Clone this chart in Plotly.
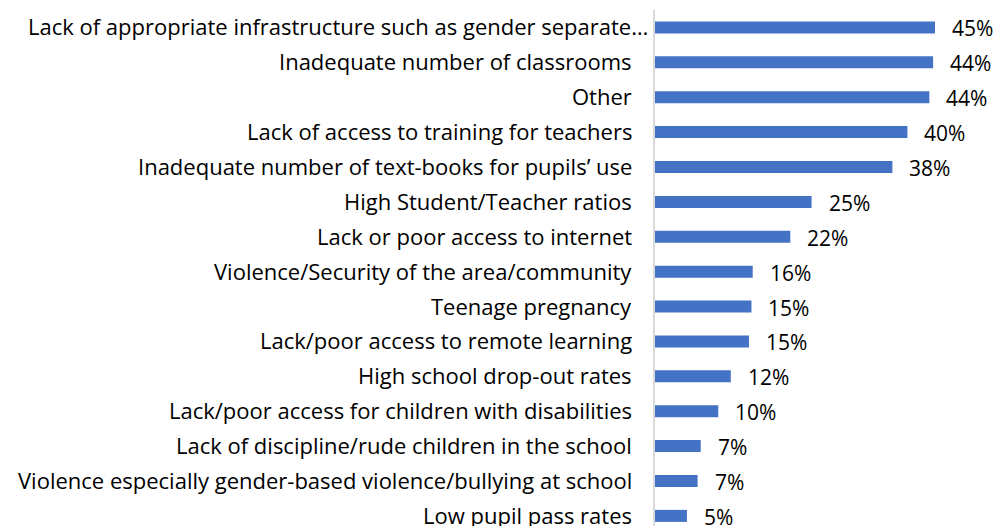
import plotly.graph_objects as go

# Challenges reported by schools (share of respondents, %)
categories = [
    "Lack of appropriate infrastructure such as gender separate…",
    "Inadequate number of classrooms",
    "Other",
    "Lack of access to training for teachers",
    "Inadequate number of text-books for pupils’ use",
    "High Student/Teacher ratios",
    "Lack or poor access to internet",
    "Violence/Security of the area/community",
    "Teenage pregnancy",
    "Lack/poor access to remote learning",
    "High school drop-out rates",
    "Lack/poor access for children with disabilities",
    "Lack of discipline/rude children in the school",
    "Violence especially gender-based violence/bullying at school",
    "Low pupil pass rates",
]
shares = [44.7, 44.4, 43.8, 40.3, 37.9, 25.0, 21.6, 15.6, 15.4, 15.0, 12.1, 10.1, 7.3, 6.8, 5.1]

FONT = "Open Sans"
FONT_SIZE = 22
BAR_COLOR = "#4472C4"

fig = go.Figure(
    go.Bar(
        x=shares,
        y=categories,
        orientation="h",
        marker=dict(color=BAR_COLOR, line=dict(width=0)),
        width=0.344,
        hoverinfo="skip",
    )
)

annotations = []
for cat, val in zip(categories, shares):
    # category name, right-aligned against the axis line
    annotations.append(dict(
        x=0, xref="paper", y=cat, yref="y",
        text=cat, showarrow=False,
        xanchor="right", yanchor="middle",
        xshift=-5 if cat.endswith("…") else -21, yshift=1,
        font=dict(family=FONT, size=FONT_SIZE, color="#000000"),
    ))
    # value label to the right of the bar
    annotations.append(dict(
        x=val, xref="x", y=cat, yref="y",
        text=f"{val:.0f}%", showarrow=False,
        xanchor="left", yanchor="middle",
        xshift=15, yshift=-1,
        font=dict(family=FONT, size=21, color="#000000"),
    ))

fig.update_layout(
    width=997,
    height=526,
    margin=dict(l=655, r=0, t=10, b=0),
    paper_bgcolor="white",
    plot_bgcolor="white",
    showlegend=False,
    annotations=annotations,
    xaxis=dict(
        range=[0, 54.6],
        showgrid=False,
        zeroline=False,
        showticklabels=False,
        showline=False,
    ),
    yaxis=dict(
        categoryorder="array",
        categoryarray=categories,
        range=[14.29, -0.5],
        showticklabels=False,
        showgrid=False,
        zeroline=False,
        showline=True,
        linecolor="#d9d9d9",
        linewidth=2,
        ticks="",
    ),
)

fig.write_html("out.html")
